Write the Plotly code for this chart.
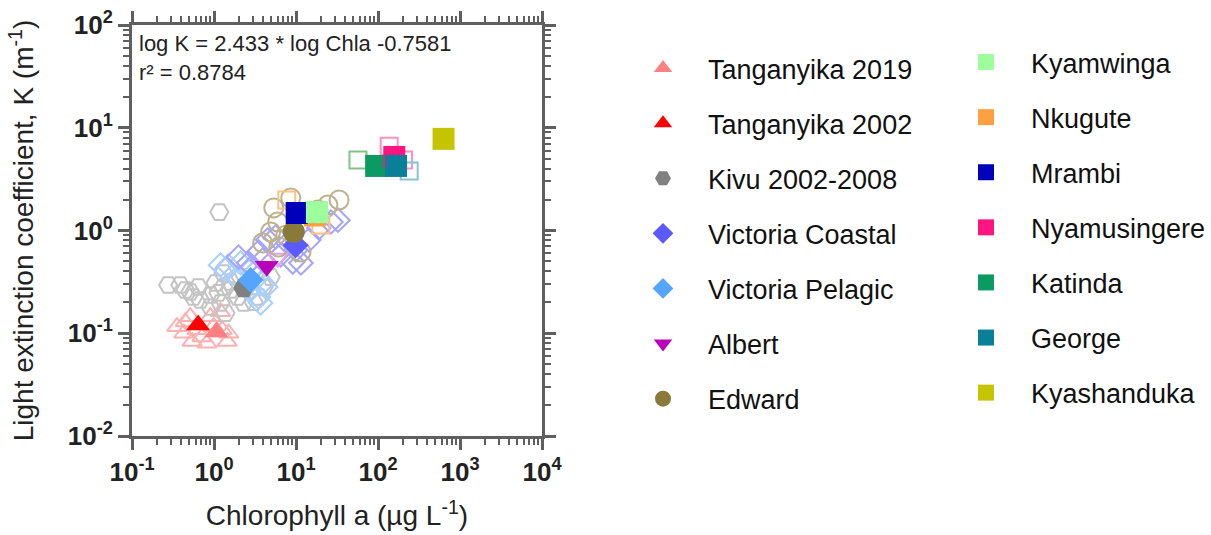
import plotly.graph_objects as go

# ---------------- data ----------------
t2019_x = [0.353, 0.447, 0.514, 0.621, 0.714, 0.904, 1.20, 1.26, 1.51, 0.54, 0.82, 1.45, 0.43, 0.99]
t2019_y = [0.116, 0.129, 0.145, 0.108, 0.092, 0.145, 0.162, 0.108, 0.10, 0.083, 0.080, 0.083, 0.10, 0.116]

kivu_x = [0.276, 0.387, 0.447, 0.514, 0.56, 0.68, 0.644, 0.904, 1.04, 1.13, 1.30, 1.59, 1.59, 1.94,
          2.29, 3.04, 3.50, 0.904, 1.20, 1.38, 1.30, 2.11, 4.03, 4.91, 1.16]
kivu_y = [0.295, 0.295, 0.264, 0.252, 0.225, 0.211, 0.282, 0.236, 0.308, 0.247, 0.282, 0.264, 0.315, 0.225,
          0.197, 0.201, 0.225, 0.18, 0.197, 0.157, 0.385, 0.352, 0.282, 0.352, 1.51]

vpel_x = [1.20, 1.50, 1.38, 2.11, 2.79, 3.40, 3.92, 3.50, 2.64, 1.94, 4.27, 3.70]
vpel_y = [0.461, 0.452, 0.413, 0.483, 0.413, 0.352, 0.308, 0.225, 0.264, 0.352, 0.282, 0.197]

vcoast_x = [1.99, 2.64, 3.50, 4.51, 5.65, 7.94, 9.95, 11.5, 9.14, 14.4, 19.0, 26.7, 32.5, 6.51, 3.92]
vcoast_y = [0.552, 0.483, 0.618, 0.81, 0.865, 0.755, 0.646, 0.483, 0.493, 0.81, 1.06, 1.21, 1.26, 0.578, 0.516]

albert_x = [5.98]
albert_y = [0.54]

edward_x = [5.35, 8.63, 5.98, 4.91, 3.92, 6.15, 11.5, 24.5, 33.5, 18.5, 7.5]
edward_y = [1.66, 2.07, 1.21, 0.966, 0.755, 0.69, 0.618, 1.77, 1.98, 1.58, 0.90]

nkugute_x = [7.71, 20.1]
nkugute_y = [1.98, 1.13]

nyam_x = [137, 205]
nyam_y = [6.6, 4.85]

katinda_x = [57]
katinda_y = [4.85]

george_x = [240]
george_y = [3.8]

# lake means (filled symbols, shown in legend)
lake_names = ["Tanganyika 2019", "Tanganyika 2002", "Kivu 2002-2008", "Victoria Coastal",
              "Victoria Pelagic", "Albert", "Edward",
              "Kyamwinga", "Nkugute", "Mrambi", "Nyamusingere", "Katinda", "George", "Kyashanduka"]
mean_x = [1.07, 0.64, 2.3, 9.9, 2.8, 4.4, 9.4, 18, 17, 10.2, 158, 95, 166, 630]
mean_y = [0.103, 0.12, 0.275, 0.72, 0.33, 0.45, 0.97, 1.51, 1.40, 1.48, 5.2, 4.25, 4.25, 7.8]
mean_colors = ["#ff8080", "#ff0000", "#808080", "#5a5aff", "#55a5ff", "#bb00bb", "#8a7a3a",
               "#9cff9c", "#ffa040", "#0000bb", "#ff1480", "#0a9a62", "#0a7f98", "#c4c400"]
mean_symbols = ["triangle-up", "triangle-up", "hexagon2", "diamond", "diamond", "triangle-down",
                "circle", "square", "square", "square", "square", "square", "square", "square"]
mean_sizes = [21, 21, 21, 20, 20, 21, 22, 22, 22, 22, 22, 22, 22, 22]
# order in which the mean markers are painted (later = on top)
draw_order = [8, 0, 1, 2, 4, 3, 5, 6, 9, 7, 11, 10, 12, 13]

# individual observations (hollow symbols)
obs = [
    ("Tanganyika 2019", t2019_x, t2019_y, "#ffb0b0", "triangle-up-open", 17),
    ("Kivu 2002-2008", kivu_x, kivu_y, "#c4c4c4", "hexagon2-open", 18),
    ("Victoria Pelagic", vpel_x, vpel_y, "#a8d0ff", "diamond-open", 18),
    ("Victoria Coastal", vcoast_x, vcoast_y, "#a4a4ff", "diamond-open", 18),
    ("Albert", albert_x, albert_y, "#e8a0e8", "triangle-down-open", 17),
    ("Edward", edward_x, edward_y, "#bdb28c", "circle-open", 19),
    ("Nkugute", nkugute_x, nkugute_y, "#ffc080", "square-open", 17),
    ("Nyamusingere", nyam_x, nyam_y, "#ff90c4", "square-open", 17),
    ("Katinda", katinda_x, katinda_y, "#80c484", "square-open", 17),
    ("George", george_x, george_y, "#88c4d0", "square-open", 17),
]

x_ticks = [0.1, 1, 10, 100, 1000, 10000]
x_tick_text = ["10<sup>-1</sup>", "10<sup>0</sup>", "10<sup>1</sup>", "10<sup>2</sup>", "10<sup>3</sup>", "10<sup>4</sup>"]
y_ticks = [0.01, 0.1, 1, 10, 100]
y_tick_text = ["10<sup>-2</sup>", "10<sup>-1</sup>", "10<sup>0</sup>", "10<sup>1</sup>", "10<sup>2</sup>"]

eq_text = "log K = 2.433 * log Chla -0.7581<br>r² = 0.8784"

# ---------------- figure ----------------
FONT = "Liberation Sans, Arial, sans-serif"
AXC = "#5f5f5f"

fig = go.Figure()

for name, xs, ys, col, sym, sz in obs:
    fig.add_trace(go.Scatter(
        x=xs, y=ys, mode="markers", name=name, legendgroup=name, showlegend=False,
        marker=dict(symbol=sym, color=col, size=sz, line=dict(color=col, width=2)),
        hoverinfo="x+y+name"))

for i in draw_order:
    name = lake_names[i]
    fig.add_trace(go.Scatter(
        x=[mean_x[i]], y=[mean_y[i]], mode="markers", name=name, legendgroup=name,
        legend="legend" if i < 7 else "legend2", legendrank=100 + i,
        marker=dict(symbol=mean_symbols[i], color=mean_colors[i], size=mean_sizes[i],
                    line=dict(width=0))))

def minor_vals(lo, hi):
    vals = []
    for e in range(lo, hi):
        for m in range(2, 10):
            vals.append(m * 10 ** e)
    return vals

axis_common = dict(
    type="log", showgrid=False, zeroline=False, showline=True, linecolor=AXC, linewidth=3,
    mirror="ticks", ticks="outside", ticklen=11, tickwidth=3, tickcolor=AXC,
    tickmode="array", tickfont=dict(family=FONT, size=26, color="#222222", weight="bold"),
)

fig.update_xaxes(
    **axis_common, range=[-1, 4], tickvals=x_ticks, ticktext=x_tick_text,
    minor=dict(tickvals=minor_vals(-1, 4), ticks="outside", ticklen=6, tickwidth=2,
               tickcolor=AXC, showgrid=False),
    title=dict(text="Chlorophyll a (µg L<sup>-1</sup>)", font=dict(family=FONT, size=28, color="#222222"),
               standoff=20))
fig.update_yaxes(
    **axis_common, range=[-2, 2], tickvals=y_ticks, ticktext=y_tick_text,
    minor=dict(tickvals=minor_vals(-2, 2), ticks="outside", ticklen=6, tickwidth=2,
               tickcolor=AXC, showgrid=False),
    title=dict(text="Light extinction coefficient, K (m<sup>-1</sup>)",
               font=dict(family=FONT, size=28, color="#222222"), standoff=26))

fig.add_annotation(text=eq_text, xref="paper", yref="paper", x=0.012, y=0.99,
                   xanchor="left", yanchor="top", showarrow=False, align="left",
                   font=dict(family=FONT, size=22, color="#222222"))

legend_common = dict(
    xanchor="left", yanchor="top", itemwidth=80,
    font=dict(family=FONT, size=27, color="#111111"), tracegroupgap=17,
    bgcolor="rgba(0,0,0,0)", borderwidth=0, itemsizing="trace")

fig.update_layout(
    width=1211, height=535, plot_bgcolor="white", paper_bgcolor="white",
    margin=dict(l=132, r=669, t=25, b=99, autoexpand=False),
    legend=dict(x=(618 - 132) / 410, y=(436 - 44) / 411, **legend_common),
    legend2=dict(x=(941 - 132) / 410, y=(436 - 38) / 411, **legend_common),
    font=dict(family=FONT),
)

fig.write_html("out.html")
